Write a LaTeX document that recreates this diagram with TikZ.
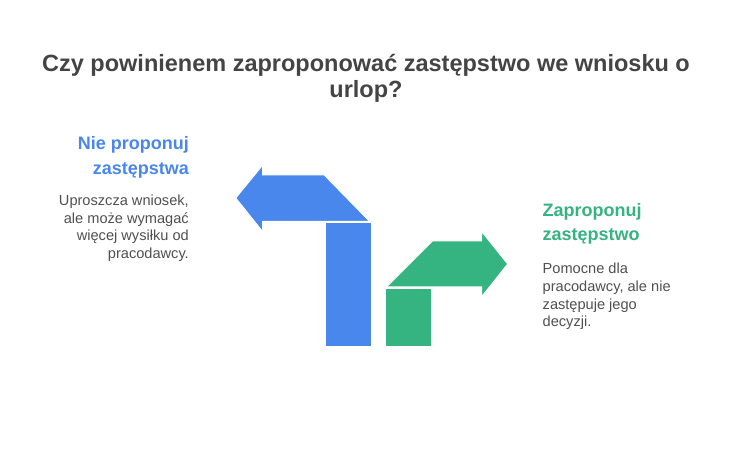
\documentclass[tikz,border=0pt]{standalone}
\usepackage{fontspec}
\setmainfont{Liberation Sans}
\definecolor{blueA}{HTML}{4A87EC}
\definecolor{greenA}{HTML}{35B381}
\definecolor{titleC}{HTML}{444444}
\definecolor{bodyC}{HTML}{505050}
\tikzset{
  ttl/.style={font=\bfseries\fontsize{23.5}{26}\selectfont, text=titleC, inner sep=0pt, align=center},
  headL/.style={font=\bfseries\fontsize{18}{24.5}\selectfont, inner sep=0pt},
  bodyT/.style={font=\fontsize{14.6}{17.6}\selectfont, text=bodyC, inner sep=0pt},
  shp/.style={draw=white, line width=1pt, line join=miter}
}
\begin{document}
\begin{tikzpicture}[x=1pt,y=-1pt]
\useasboundingbox[fill=white] (0,0) rectangle (732,449);
% title
\node[ttl, anchor=base] (title) at (366,98) {Czy powinienem zaproponować zastępstwo we wniosku o\\urlop?};
% blue arrow
\fill[blueA, shp] (235.7,198) -- (262.7,165) -- (262.7,175) -- (324.3,175) -- (369.5,221.3) -- (262.7,221.3) -- (262.7,231.7) -- cycle;
\fill[blueA, shp] (325,222.7) rectangle (371,346.7);
% green arrow
\fill[greenA, shp] (385,288.5) rectangle (431,346.7);
\fill[greenA, shp] (386.5,287) -- (432.3,241) -- (481.7,241) -- (481.7,231.5) -- (507.7,264) -- (481.7,296.7) -- (481.7,287) -- cycle;
% left texts
\node[headL, text=blueA, anchor=base east, align=right] (lh) at (189,174.3) {Nie proponuj\\zastępstwa};
\node[bodyT, anchor=base east, align=right] (lb) at (189,258.5) {Uproszcza wniosek,\\ale może wymagać\\więcej wysiłku od\\pracodawcy.};
% right texts
\node[headL, text=greenA, anchor=base west, align=left] (rh) at (542.5,240.7) {Zaproponuj\\zastępstwo};
\node[bodyT, anchor=base west, align=left] (rb) at (542.5,326.7) {Pomocne dla\\pracodawcy, ale nie\\zastępuje jego\\decyzji.};
\end{tikzpicture}
\end{document}
